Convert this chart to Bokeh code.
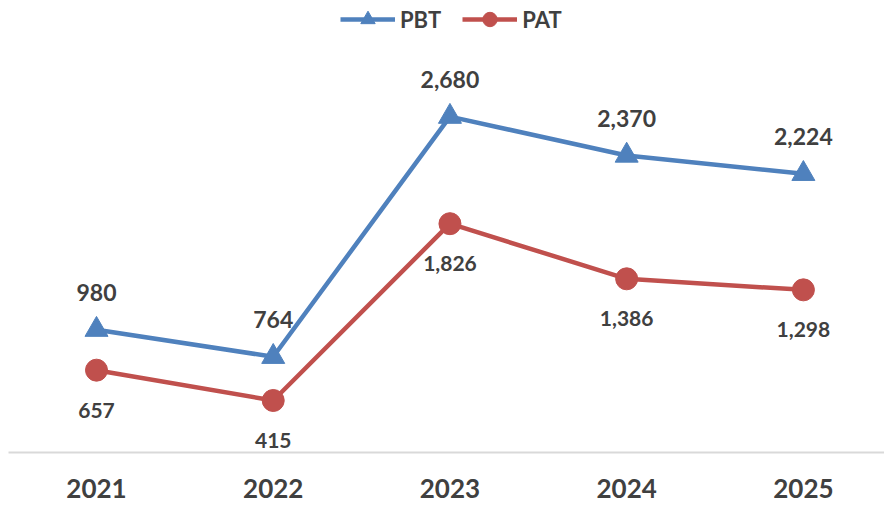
from bokeh.plotting import figure
from bokeh.models import Range1d, ColumnDataSource, Legend, LegendItem, FixedTicker, LabelSet
from bokeh.core.properties import value
from bokeh.embed import file_html
from bokeh.resources import INLINE

years = ["2021", "2022", "2023", "2024", "2025"]
pbt = [980, 764, 2680, 2370, 2224]
pat = [657, 415, 1826, 1386, 1298]

BLUE = "#4f81bd"
RED = "#c0504d"
TXT = "#404040"
FONT = "Lato"

xs = list(range(len(years)))
src = ColumnDataSource(dict(
    x=xs, pbt=pbt, pat=pat,
    pbt_lbl=[f"{v:,}" for v in pbt],
    pat_lbl=[f"{v:,}" for v in pat],
))

W, H = 884, 505
p = figure(width=W, height=H, output_backend="svg", toolbar_location=None,
           x_range=Range1d(-0.498, 4.459), y_range=Range1d(0, 3607),
           min_border_left=8, min_border_right=0, min_border_top=0, min_border_bottom=53)
p.outline_line_color = None
p.grid.grid_line_color = None
p.yaxis.visible = False
p.background_fill_color = "white"
p.border_fill_color = "white"

l1 = p.line("x", "pbt", source=src, line_color=BLUE, line_width=4.5)
m1 = p.scatter("x", "pbt", source=src, marker="triangle", size=23, fill_color=BLUE, line_color=BLUE)
l2 = p.line("x", "pat", source=src, line_color=RED, line_width=4.5)
m2 = p.scatter("x", "pat", source=src, marker="circle", size=22, fill_color=RED, line_color=RED)

lab1 = LabelSet(x="x", y="pbt", text="pbt_lbl", source=src, y_offset=37,
                text_align="center", text_baseline="middle", text_font=value(FONT),
                text_font_style="bold", text_font_size="23px", text_color=TXT)
lab2 = LabelSet(x="x", y="pat", text="pat_lbl", source=src, y_offset=-40,
                text_align="center", text_baseline="middle", text_font=value(FONT),
                text_font_style="bold", text_font_size="21px", text_color=TXT)
p.add_layout(lab1)
p.add_layout(lab2)

xa = p.xaxis[0]
xa.ticker = FixedTicker(ticks=xs)
xa.major_label_overrides = {i: y for i, y in enumerate(years)}
xa.axis_line_color = "#d9d9d9"
xa.axis_line_width = 2
xa.major_tick_line_color = None
xa.minor_tick_line_color = None
xa.major_label_text_font = FONT
xa.major_label_text_font_style = "bold"
xa.major_label_text_font_size = "26px"
xa.major_label_text_color = TXT
xa.major_label_standoff = 20

legend = Legend(items=[LegendItem(label="PBT", renderers=[l1, m1]),
                       LegendItem(label="PAT", renderers=[l2, m2])],
                orientation="horizontal", location=(332, 415),
                label_text_font=FONT, label_text_font_style="bold",
                label_text_font_size="22px", label_text_color=TXT,
                glyph_width=55, glyph_height=36, spacing=21, padding=0, margin=0,
                label_standoff=5,
                border_line_color=None, background_fill_alpha=0)
p.add_layout(legend)

open("out.html", "w").write(file_html(p, INLINE))
